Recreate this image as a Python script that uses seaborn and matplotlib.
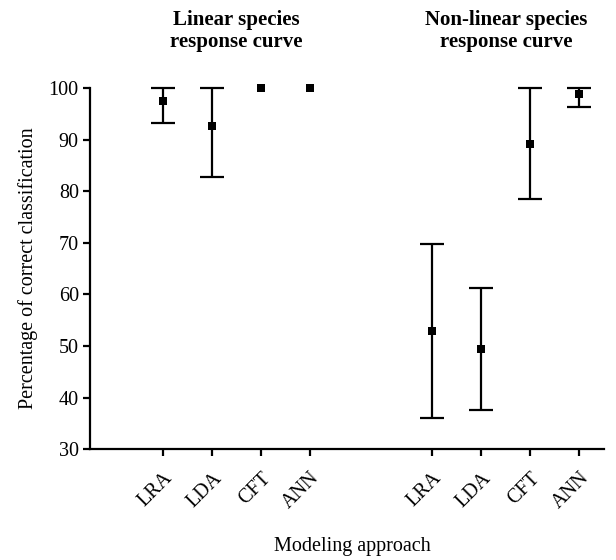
import numpy as np
import pandas as pd
import matplotlib
matplotlib.use("Agg")
import matplotlib.pyplot as plt
import seaborn as sns

sns.set_style("ticks")
plt.rcParams['font.family'] = ['Liberation Serif', 'DejaVu Serif']
plt.rcParams['text.color'] = 'black'
plt.rcParams['axes.labelcolor'] = 'black'
plt.rcParams['xtick.color'] = 'black'
plt.rcParams['ytick.color'] = 'black'

# data
methods = ['LRA', 'LDA', 'CFT', 'ANN']
groups = ['Linear species\nresponse curve', 'Non-linear species\nresponse curve']
linear_mean = [97.4, 92.7, 100.0, 100.0]
linear_low = [93.2, 82.7, 100.0, 100.0]
linear_high = [100.0, 100.0, 100.0, 100.0]
nonlin_mean = [52.9, 49.4, 89.1, 98.8]
nonlin_low = [36.0, 37.5, 78.4, 96.3]
nonlin_high = [69.8, 61.3, 100.0, 100.0]

gap = 1.5
xpos = list(range(4)) + [i + 4 + gap for i in range(4)]
df = pd.DataFrame({
    'x': xpos,
    'method': methods * 2,
    'group': [groups[0]] * 4 + [groups[1]] * 4,
    'mean': linear_mean + nonlin_mean,
    'low': linear_low + nonlin_low,
    'high': linear_high + nonlin_high,
})

fig = plt.figure(figsize=(6.16, 5.6), dpi=100)
ax = fig.add_axes([0.146, 0.198, 0.834, 0.645])

fs = 14.5
yerr = np.vstack([df['mean'] - df['low'], df['high'] - df['mean']])
has_err = (df['high'] - df['low']) > 0
ax.errorbar(df['x'][has_err], df['mean'][has_err], yerr=yerr[:, has_err.values],
            fmt='none', ecolor='black', elinewidth=1.6, capsize=8.3,
            capthick=1.6, clip_on=False, zorder=2)
sns.scatterplot(data=df, x='x', y='mean', marker='s', color='black', s=38,
                edgecolor='black', linewidth=0, ax=ax, zorder=3, clip_on=False,
                legend=False)

ax.set_xlim(-1.5, 9)
ax.set_ylim(30, 100)
ax.set_yticks(range(30, 101, 10))
ax.set_xticks(df['x'])
ax.set_xticklabels(df['method'], rotation=45, ha='right', rotation_mode='anchor',
                   fontsize=fs)
ax.tick_params(axis='y', labelsize=fs, width=1.6, length=5, direction='out', pad=3)
ax.tick_params(axis='x', width=1.6, length=5, direction='out', pad=9)
sns.despine(ax=ax)
for s in ['left', 'bottom']:
    ax.spines[s].set_linewidth(1.6)
    ax.spines[s].set_color('black')

ax.set_ylabel('Percentage of correct classification', fontsize=fs, labelpad=8)
ax.set_xlabel('Modeling approach', fontsize=fs)
ax.xaxis.label.set_va('center')
ax.xaxis.set_label_coords(0.51, -0.27)

for gi, g in enumerate(groups):
    xs = df.loc[df['group'] == g, 'x']
    ax.text(xs.mean(), 1.10, g, transform=ax.get_xaxis_transform(),
            ha='center', va='bottom', fontsize=15, fontweight='bold',
            linespacing=1.15)

fig.savefig('out.png', dpi=100)
